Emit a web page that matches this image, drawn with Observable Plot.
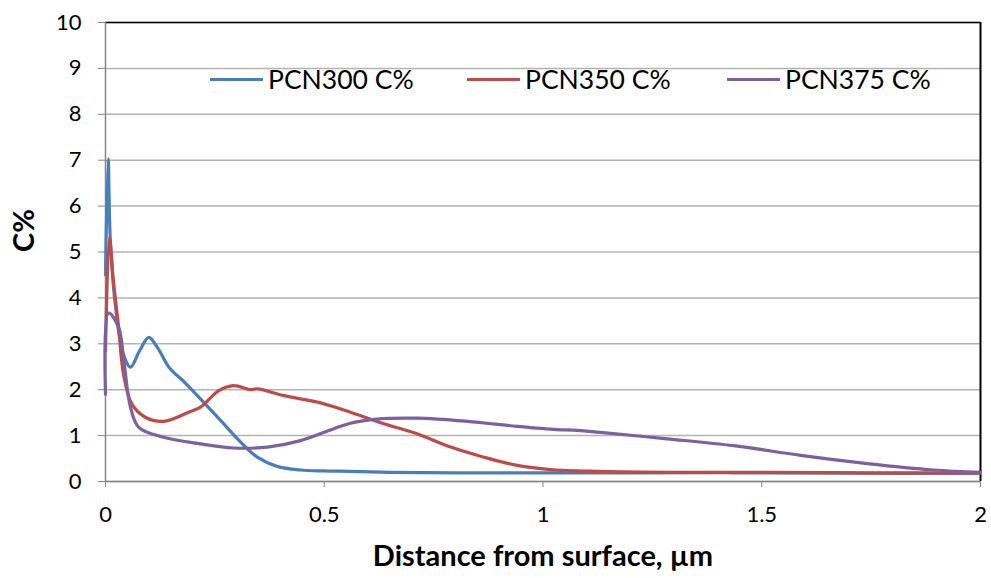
<!DOCTYPE html>
<html><head><meta charset="utf-8">
<script src="https://cdn.jsdelivr.net/npm/d3@7"></script>
<script src="https://cdn.jsdelivr.net/npm/@observablehq/plot@0.6"></script>
<style>
body{margin:0;background:#fff;font-family:Lato,"Open Sans",sans-serif;}
#wrap{position:relative;width:991px;height:578px;}
.leg{position:absolute;top:61px;display:flex;align-items:center;font-size:26.5px;color:#000;line-height:36px;}
.leg span.sw{display:inline-block;width:53px;height:3px;margin-right:5px;}
</style></head>
<body><div id="wrap"></div>
<script>
const seriesNames = ["PCN300 C%", "PCN350 C%", "PCN375 C%"];
const colors = ["#4A7EBB", "#BE4B48", "#7D60A0"];
const xTicks = [0, 0.5, 1, 1.5, 2];
const yTicks = [0,1,2,3,4,5,6,7,8,9,10];

const pcn300X = [0, 0.006, 0.011, 0.023, 0.04, 0.057, 0.078, 0.099, 0.12, 0.145, 0.182, 0.217, 0.263, 0.309, 0.347, 0.392, 0.446, 0.5, 0.56, 0.65, 0.8, 1.0, 1.2, 1.44, 1.7, 2.0];
const pcn300Y = [4.5, 7.03, 5.25, 3.8, 2.8, 2.49, 2.85, 3.14, 2.9, 2.49, 2.15, 1.80, 1.33, 0.86, 0.53, 0.33, 0.25, 0.23, 0.22, 0.2, 0.19, 0.19, 0.19, 0.19, 0.18, 0.18];

const pcn350X = [0, 0.009, 0.018, 0.030, 0.041, 0.060, 0.091, 0.133, 0.19, 0.217, 0.259, 0.293, 0.331, 0.347, 0.408, 0.446, 0.484, 0.522, 0.56, 0.636, 0.712, 0.789, 0.865, 0.941, 1.017, 1.13, 1.3, 1.5, 1.75, 2.0];
const pcn350Y = [2.85, 5.32, 4.38, 3.36, 2.35, 1.69, 1.40, 1.31, 1.51, 1.62, 1.98, 2.09, 2.0, 2.02, 1.87, 1.80, 1.73, 1.63, 1.51, 1.26, 1.04, 0.75, 0.53, 0.35, 0.26, 0.22, 0.2, 0.2, 0.19, 0.18];

const pcn375X = [0, 0.007, 0.030, 0.041, 0.057, 0.076, 0.130, 0.217, 0.293, 0.37, 0.446, 0.522, 0.56, 0.62, 0.712, 0.827, 0.941, 1.032, 1.07, 1.131, 1.284, 1.436, 1.589, 1.741, 1.893, 2.0];
const pcn375Y = [1.9, 3.67, 3.36, 2.71, 1.62, 1.18, 0.97, 0.82, 0.73, 0.75, 0.89, 1.15, 1.27, 1.36, 1.38, 1.31, 1.20, 1.13, 1.12, 1.07, 0.93, 0.78, 0.57, 0.39, 0.25, 0.20];

const xs = [pcn300X, pcn350X, pcn375X];
const ys = [pcn300Y, pcn350Y, pcn375Y];
const data = [];
seriesNames.forEach((s, i) => xs[i].forEach((x, j) => data.push({series: s, x, y: ys[i][j]})));

const chart = Plot.plot({
  width: 991, height: 578,
  marginLeft: 105, marginRight: 11, marginTop: 22, marginBottom: 97,
  style: {fontFamily: "Lato, 'Open Sans', sans-serif", background: "#fff", color: "#000"},
  x: {domain: [0, 2]},
  y: {domain: [0, 10]},
  color: {domain: seriesNames, range: colors},
  marks: [
    Plot.gridY(yTicks, {stroke: "#b3b3b3", strokeOpacity: 1, strokeWidth: 1.5}),
    Plot.ruleY([10], {stroke: "#000", strokeWidth: 1.5}),
    Plot.ruleX([2], {stroke: "#000", strokeWidth: 2}),
    Plot.ruleX([0], {stroke: "#868686", strokeWidth: 1.5}),
    Plot.ruleY([0], {stroke: "#868686", strokeWidth: 1.5}),
    Plot.axisY(yTicks, {tickSize: 7, tickPadding: 17, fontSize: 22, stroke: "#868686", label: null, tickFormat: d => String(d)}),
    Plot.axisX(xTicks, {tickSize: 6, tickPadding: 19, fontSize: 22, stroke: "#868686", label: null, tickFormat: d => String(d)}),
    Plot.line(data, {x: "x", y: "y", z: "series", stroke: "series", strokeWidth: 3.2, curve: "catmull-rom"}),
    Plot.text(["Distance from surface, µm"], {frameAnchor: "bottom", dy: 84, fontSize: 29, fontWeight: "bold"}),
    Plot.text(["C%"], {frameAnchor: "left", dx: -81, rotate: -90, fontSize: 29, fontWeight: "bold"})
  ]
});
const wrap = document.getElementById("wrap");
wrap.appendChild(chart);
const legLeft = [210, 467, 727];
seriesNames.forEach((s, i) => {
  const d = document.createElement("div");
  d.className = "leg";
  d.style.left = legLeft[i] + "px";
  d.innerHTML = `<span class="sw" style="background:${colors[i]}"></span>${s}`;
  wrap.appendChild(d);
});
</script></body></html>
